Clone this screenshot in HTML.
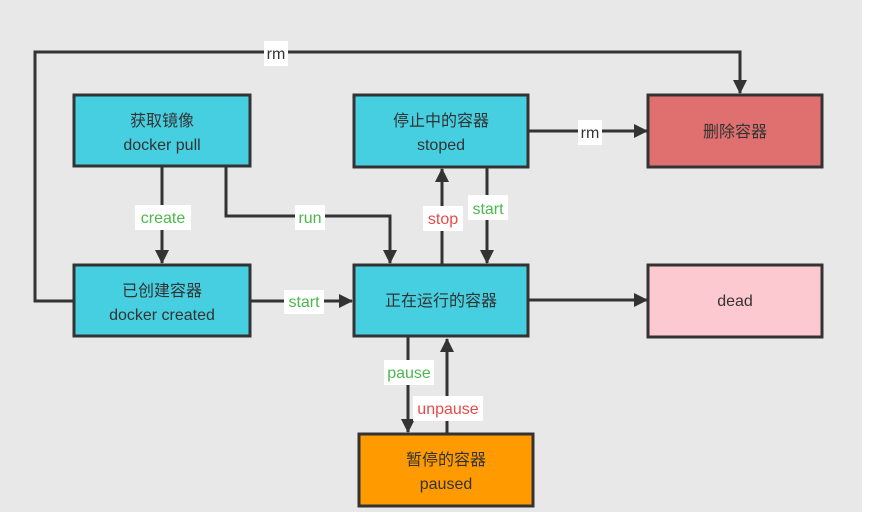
<!DOCTYPE html>
<html><head><meta charset="utf-8"><style>
body{margin:0;width:869px;height:525px;background:#fff;overflow:hidden}
svg text{font-family:"Liberation Sans","Noto Sans CJK SC",sans-serif;font-size:16px;text-anchor:middle}
</style></head><body>
<svg width="869" height="525" xmlns="http://www.w3.org/2000/svg">
<defs><marker id="a" markerWidth="10" markerHeight="10" refX="9" refY="5" orient="auto" markerUnits="userSpaceOnUse"><path d="M0,0 L10,5 L0,10 z" fill="#333"/></marker>
<marker id="b" markerWidth="14" markerHeight="14" refX="13" refY="7" orient="auto" markerUnits="userSpaceOnUse"><path d="M0,0 L14,7 L0,14 z" fill="#333"/></marker></defs>
<rect x="0" y="0" width="862" height="512" fill="#e8e8e8"/>
<g stroke="#333" stroke-width="3" fill="none" marker-end="url(#b)">
<path d="M74,301 H35 V52 H740 V93"/>
<path d="M162,166 V263"/>
<path d="M226,166 V216 H390 V263"/>
<path d="M250,301 H352"/>
<path d="M442,265 V169"/>
<path d="M487,167 V263"/>
<path d="M528,131 H647"/>
<path d="M528,300 H647"/>
<path d="M408,337 V432"/>
<path d="M447,434 V339"/>
</g>
<g stroke="#333" stroke-width="3">
<rect x="74" y="95" width="176" height="71" fill="#46cfe0"/>
<rect x="74" y="265" width="176" height="71" fill="#46cfe0"/>
<rect x="354" y="95" width="174" height="72" fill="#46cfe0"/>
<rect x="354" y="265" width="174" height="71" fill="#46cfe0"/>
<rect x="648" y="95" width="174" height="72" fill="#e07070"/>
<rect x="648" y="265" width="174" height="72" fill="#fdc9d1"/>
<rect x="359" y="434" width="174" height="72" fill="#ff9a00"/>
</g>
<g fill="#fff">
<rect x="264" y="41" width="24" height="25"/>
<rect x="135" y="205" width="56" height="25"/>
<rect x="295" y="205" width="30" height="25"/>
<rect x="284" y="290" width="40" height="24"/>
<rect x="423" y="206" width="40" height="25"/>
<rect x="468" y="195" width="40" height="25"/>
<rect x="578" y="120" width="24" height="25"/>
<rect x="384" y="360" width="50" height="25"/>
<rect x="413" y="396" width="70" height="25"/>
</g>
<g fill="#333">
<text x="276" y="59">rm</text>
<text x="590" y="138">rm</text>
<text x="162" y="126">获取镜像</text><text x="162" y="150">docker pull</text>
<text x="162" y="296">已创建容器</text><text x="162" y="320">docker created</text>
<text x="441" y="126">停止中的容器</text><text x="441" y="150">stoped</text>
<text x="441" y="306">正在运行的容器</text>
<text x="735" y="137">删除容器</text>
<text x="735" y="306">dead</text>
<text x="446" y="465">暂停的容器</text><text x="446" y="489">paused</text>
</g>
<g fill="#4cb84c">
<text x="163" y="223">create</text>
<text x="310" y="223">run</text>
<text x="304" y="307">start</text>
<text x="488" y="214">start</text>
<text x="409" y="378">pause</text>
</g>
<g fill="#e84a4a">
<text x="443" y="224">stop</text>
<text x="448" y="414">unpause</text>
</g>
</svg>
</body></html>
